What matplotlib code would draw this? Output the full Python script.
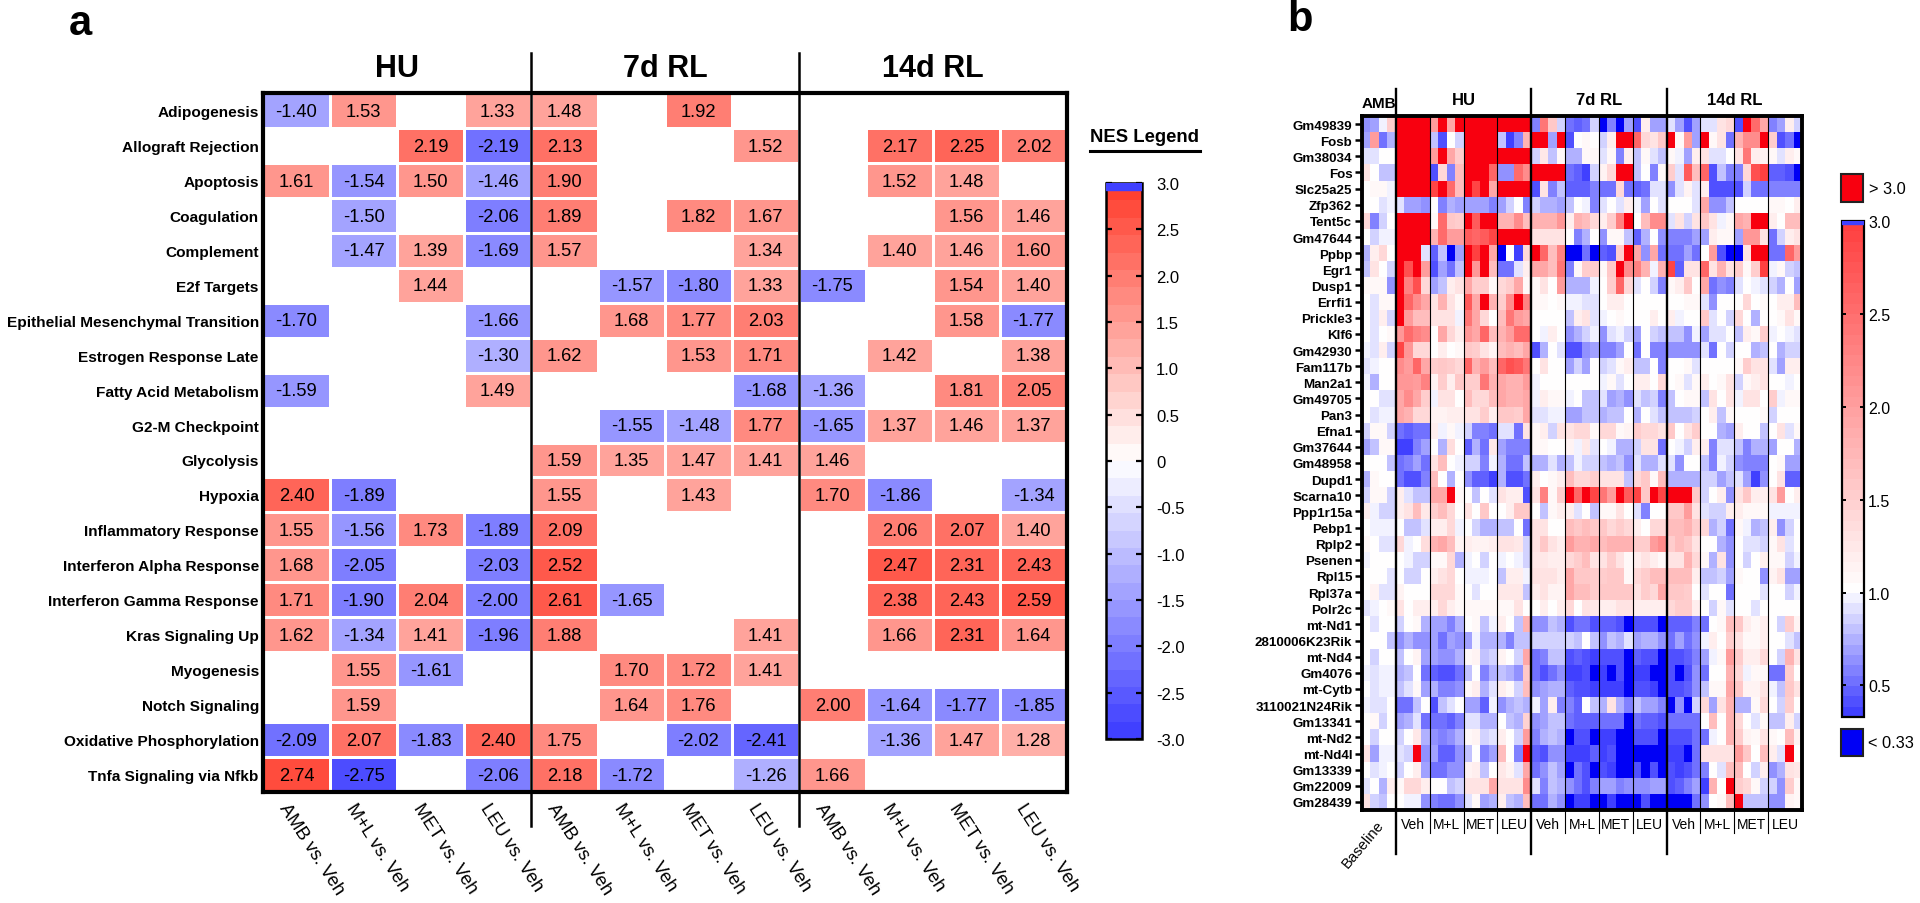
import numpy as np
import matplotlib
matplotlib.use("Agg")
import matplotlib.pyplot as plt
from matplotlib.colors import LinearSegmentedColormap, Normalize
from matplotlib.cm import ScalarMappable
from matplotlib.patches import Rectangle

plt.rcParams["font.family"] = ["Liberation Sans", "DejaVu Sans"]

W, H = 1920, 904
N = None

# panel a
pathways = ["Adipogenesis", "Allograft Rejection", "Apoptosis", "Coagulation", "Complement",
            "E2f Targets", "Epithelial Mesenchymal Transition", "Estrogen Response Late",
            "Fatty Acid Metabolism", "G2-M Checkpoint", "Glycolysis", "Hypoxia",
            "Inflammatory Response", "Interferon Alpha Response", "Interferon Gamma Response",
            "Kras Signaling Up", "Myogenesis", "Notch Signaling", "Oxidative Phosphorylation",
            "Tnfa Signaling via Nfkb"]
comparisons = ["AMB vs. Veh", "M+L vs. Veh", "MET vs. Veh", "LEU vs. Veh"] * 3
groups_a = ["HU", "7d RL", "14d RL"]
nes = [
    [-1.40, 1.53, N, 1.33, 1.48, N, 1.92, N, N, N, N, N],
    [N, N, 2.19, -2.19, 2.13, N, N, 1.52, N, 2.17, 2.25, 2.02],
    [1.61, -1.54, 1.50, -1.46, 1.90, N, N, N, N, 1.52, 1.48, N],
    [N, -1.50, N, -2.06, 1.89, N, 1.82, 1.67, N, N, 1.56, 1.46],
    [N, -1.47, 1.39, -1.69, 1.57, N, N, 1.34, N, 1.40, 1.46, 1.60],
    [N, N, 1.44, N, N, -1.57, -1.80, 1.33, -1.75, N, 1.54, 1.40],
    [-1.70, N, N, -1.66, N, 1.68, 1.77, 2.03, N, N, 1.58, -1.77],
    [N, N, N, -1.30, 1.62, N, 1.53, 1.71, N, 1.42, N, 1.38],
    [-1.59, N, N, 1.49, N, N, N, -1.68, -1.36, N, 1.81, 2.05],
    [N, N, N, N, N, -1.55, -1.48, 1.77, -1.65, 1.37, 1.46, 1.37],
    [N, N, N, N, 1.59, 1.35, 1.47, 1.41, 1.46, N, N, N],
    [2.40, -1.89, N, N, 1.55, N, 1.43, N, 1.70, -1.86, N, -1.34],
    [1.55, -1.56, 1.73, -1.89, 2.09, N, N, N, N, 2.06, 2.07, 1.40],
    [1.68, -2.05, N, -2.03, 2.52, N, N, N, N, 2.47, 2.31, 2.43],
    [1.71, -1.90, 2.04, -2.00, 2.61, -1.65, N, N, N, 2.38, 2.43, 2.59],
    [1.62, -1.34, 1.41, -1.96, 1.88, N, N, 1.41, N, 1.66, 2.31, 1.64],
    [N, 1.55, -1.61, N, N, 1.70, 1.72, 1.41, N, N, N, N],
    [N, 1.59, N, N, N, 1.64, 1.76, N, 2.00, -1.64, -1.77, -1.85],
    [-2.09, 2.07, -1.83, 2.40, 1.75, N, -2.02, -2.41, N, -1.36, 1.47, 1.28],
    [2.74, -2.75, N, -2.06, 2.18, -1.72, N, -1.26, 1.66, N, N, N],
]
nes_ticks = [3, 2.5, 2, 1.5, 1, 0.5, 0, -0.5, -1, -1.5, -2, -2.5, -3]
nes_labels = ["3.0", "2.5", "2.0", "1.5", "1.0", "0.5", "0", "-0.5", "-1.0", "-1.5", "-2.0", "-2.5", "-3.0"]

# panel b
genes = ["Gm49839", "Fosb", "Gm38034", "Fos", "Slc25a25", "Zfp362", "Tent5c", "Gm47644", "Ppbp", "Egr1",
         "Dusp1", "Errfi1", "Prickle3", "Klf6", "Gm42930", "Fam117b", "Man2a1", "Gm49705", "Pan3", "Efna1",
         "Gm37644", "Gm48958", "Dupd1", "Scarna10", "Ppp1r15a", "Pebp1", "Rplp2", "Psenen", "Rpl15", "Rpl37a",
         "Polr2c", "mt-Nd1", "2810006K23Rik", "mt-Nd4", "Gm4076", "mt-Cytb", "3110021N24Rik", "Gm13341",
         "mt-Nd2", "mt-Nd4l", "Gm13339", "Gm22009", "Gm28439"]
treatments = ["Veh", "M+L", "MET", "LEU"] * 3
groups_b = ["HU", "7d RL", "14d RL"]
R = 3.5
fold = [
    [.65,.7,.97,1.5, R,R,R,R, 2,R,1.9,R, R,R,R,R, R,R,R,R, .6,2.4,1.6,.85, .55,.45,.55,.85, .3,.6,.3,.7, .4,1.2,.7,.7, .9,.7,.42,.7, .9,.9,1.3,1.4, .42,R,2.5,1.9, .6,.7,1.2,.85],
    [.7,2,.5,.75, R,R,R,R, .8,.42,1,.85, R,R,R,R, .8,.38,.6,1.8, R,R,.7,R, .42,1,1.1,1.05, .85,1.2,R,R, 2.6,1.4,1.3,1.6, R,1.1,2,.7, R,1.1,1.3,.55, 1.8,2.2,2.2,R, 1.5,.42,.5,.3],
    [.9,.9,1.05,1.05, R,R,R,R, 2,R,1.9,1.5, R,R,R,R, R,R,R,R, .85,1.25,.8,1.1, .75,.75,1.1,1.1, .9,1.1,.6,1.2, .8,1.1,.9,.8, 1.1,.95,.7,1.2, 1.3,.9,.9,1, 1.3,2.4,1.2,1.15, 1.1,.9,1.2,1.1],
    [1.3,1.05,.8,.8, R,R,R,R, .4,1.4,.6,1.7, R,R,R,2.6, .65,.65,2.5,2.2, R,R,R,R, .55,.45,.37,.85, 1.15,1.4,R,R, .8,1,.6,1.1, 1.5,.9,2.7,1.7, 2.6,.42,.8,.6, .6,1.4,2.8,3, .45,.45,.42,.3],
    [1.05,1.1,1.1,.95, R,R,R,R, 2.9,R,2.5,1.7, R,2.9,R,1.9, R,R,R,R, .42,1.3,.6,.8, .45,.45,.45,.6, .5,.5,1.4,.55, .45,.55,.9,.9, .65,.9,1.15,.9, 1.2,.4,.4,.4, .4,.85,.55,.55, .6,.6,.6,.6],
    [1.05,1,.9,.95, .9,.7,.7,.65, 1,.6,.75,.7, .7,.7,.7,.6, .7,.85,1,.6, .85,.75,.75,.7, .8,1,.95,.6, .9,1,.9,1.2, .95,.7,1,.9, 1.05,1.05,1.05,.92, 1.9,.65,.65,.8, 1,1,1,1, 1.1,1.1,1,1.2],
    [1.4,.6,.85,1, R,R,R,R, 1.1,2.5,1.6,1.5, R,2.7,R,R, 1.8,1.8,2.2,1.7, 1.8,1.8,1.8,2.1, 1.2,1.8,1.7,1.4, 1.2,1.5,2.3,R, 1.05,1.7,2.2,2.2, .9,1.3,.85,1.3, 1.6,1.3,.95,1.1, 1.9,1.8,R,R, 1.2,1.05,1.7,1.7],
    [1.05,.85,.95,.97, R,R,R,R, 1.8,2.5,2,2, 2.7,2.6,2.7,2.9, R,R,R,R, 1.3,1.3,1.3,1.3, 1.02,.6,.75,1, .65,1.1,1.1,.8, .45,.75,1,.65, .6,.6,.6,.7, .7,1.2,1.1,1.1, .7,2.1,2.1,1.3, .55,.85,1.2,1.3],
    [.75,1.2,1.4,1.05, R,R,R,.9, .45,.8,.3,.7, R,3,R,1.9, .3,1.02,.38,1.4, R,2.6,1.7,2.3, .3,.3,.5,.3, .45,.42,1.5,R, 1.9,.65,1.9,.55, .5,.55,.7,.55, 1.05,2,.42,.3, .3,1.3,R,R, .55,.55,2.6,2],
    [.8,1.3,1,.85, R,2.8,R,2, .4,.7,.55,.8, R,2.1,R,1.7, .5,.5,.9,1.2, 1.9,1.9,1.7,2.4, .6,1.1,1.5,1.5, 1.1,1.6,R,2.2, 2.3,1.8,.95,1.8, 2.9,.45,1.3,1.3, 2.6,1.3,1.8,1.3, 1.5,1.1,1.5,3, .95,1.1,.85,.8],
    [1.1,1.1,1.1,.65, R,2.3,2.8,1.4, .7,.8,1.2,1.3, 1.9,1.5,1.5,1.1, 1.4,1.5,1.9,1.1, 1.1,1.3,1.05,2, .75,.75,.75,.95, 1.05,1.5,2.6,1.4, .9,1,.85,.6, 1.1,1.2,1.6,1, 1.9,.55,.65,.6, .9,1,.95,.9, .85,.75,1,.7],
    [1,.9,1.1,1.1, R,2.6,2.2,1.9, 1.3,1.8,1.3,1.1, 2.7,1.9,R,1.8, 1.5,2.2,R,2.3, 1.1,1.1,1,1.1, .97,.97,.9,.9, 1,1.2,1.2,1.05, 1,1.05,1.02,1, 1,1.05,1.1,1.1, .9,.65,1,1, 1,1.4,1.05,1.1, 1,1.2,1.2,1.7],
    [1.02,.92,1.2,.85, R,2,1.7,1.7, 1.3,1.3,1.3,.95, 2.4,1.9,1.4,1, 1.7,2.4,2,1.9, 1.05,1,1,1.05, .8,1.2,1.3,.9, .97,1.05,1.1,1.05, 1,1,1.2,1, 1.2,.97,1,1, 1.6,.9,1,.85, 1.4,1.05,.75,1, 1,1.1,1.3,1.1],
    [1.02,.92,1.05,1.1, 2.1,2.5,2.3,2.2, 1.05,1.9,1.4,1.2, 2.1,1.9,2.6,1.7, 1.8,2,2.5,2.5, 1.02,.95,1.2,1.05, .65,.75,.85,.95, .65,.9,.95,.85, .7,1,.85,.8, .8,.8,.65,.95, .7,.9,.9,1.05, .8,1.2,1.1,1.5, .97,1.05,.95,.9],
    [.95,.9,1.2,.85, 2.9,2.1,1.4,1.4, 1,1.2,1.05,1.1, 1.6,1.5,1.3,1.15, 1.7,1.8,1.7,1.9, .42,.75,1,.9, .4,.42,.65,.7, .6,.6,.7,1.02, .5,1,.6,.6, .65,.65,.65,.65, .9,.5,1,.85, 1.02,1.02,.75,.8, 1.02,.75,.88,.88],
    [.9,.95,1.05,1.05, 2.2,2,2.6,1.9, 1.5,1.6,1.5,1.4, 2.6,1.8,2,1.7, 2.6,2.8,2.7,2.4, 1.05,1.3,1.02,1.02, .7,.85,.7,1.02, .85,.9,1.08,1.2, .82,.82,1.02,.6, 1.02,1.05,1.1,.92, 1.05,1.05,1.05,1.05, 1.1,1.5,1.3,1.3, .92,.7,1.2,1.2],
    [.98,.75,1.05,1.05, 2.1,2.1,2,2.3, 1.15,1.5,1.2,1.6, 1.5,1.5,2.4,1.8, 1.9,1.8,1.8,2, .95,1.02,1.02,1.02, 1,1,1,1.02, .95,1.1,.9,1.02, 1.2,1.2,1.03,1.4, 1.03,1.1,.92,1.1, 1.2,1,1.1,1.3, .85,1.1,1.2,1.3, 1,1,.97,1],
    [1.02,1.05,.92,.92, 1.9,2.2,1.9,1.5, .95,1.3,1.3,1.05, 1.7,1.4,1.4,1.7, 1.9,1.8,1.8,1.9, .98,1.2,1.1,1.1, .97,1,.8,.8, .9,.7,.75,.62, .93,.82,.85,.6, .8,1,1.1,1.1, .8,1.3,1.05,1.3, .98,1.3,1.3,1.03, 1.5,.95,1.1,1.1],
    [1,.9,.98,.98, 1.9,1.8,1.4,1.4, 1.15,1.15,1.2,1.2, 1.3,1.3,1.5,1.2, 1.6,1.6,1.5,1.9, .92,.92,.97,.97, .7,.7,.8,.8, .75,.82,.82,1, .75,1,.92,.8, .8,.8,.8,.85, 1.05,1.2,.82,1.1, 1.02,1,1,1.1, .85,1,1,1.02],
    [.88,1.1,1.1,.85, .55,.45,.55,.55, 1.2,.95,1.1,.95, .88,.6,.6,.55, .92,.92,.55,1.3, 1.1,1.2,.85,1.3, 1.3,1.4,1.4,1.1, 1.4,1.4,1.1,1.15, 1.5,1.4,1.4,1.3, 1.6,1.05,1.3,1.5, 1.05,1.03,.75,.7, 1.2,1.05,1.02,.8, 1.05,1.3,.9,1.1],
    [.7,.8,1.1,1.1, .38,.38,.6,.7, 1.05,.72,1.35,1, .45,.75,.5,1.25, .7,.6,.6,.6, 1.1,1.1,1.05,1.05, 1.15,.95,1.25,.92, 1,.97,.75,.75, .88,1.3,1.3,.55, 1.03,.98,.85,1.2, 1.2,.6,.92,.92, .82,.6,.75,.75, .7,1.02,1.02,.75],
    [1.05,1.05,1.05,.82, .5,.58,.7,.55, 1.3,1.7,1.02,.98, .85,.85,.58,.95, .75,.55,.55,.82, .72,.72,.9,.72, .8,.95,.88,.88, .8,.72,.82,.62, .9,.72,.72,.92, .92,.65,1.02,1.02, .78,.6,.98,.85, .62,.6,.6,.6, 1.03,1.1,.7,.7],
    [.72,1.1,1,1.05, .55,.4,.4,.6, 1.7,1.05,.75,1, .62,.48,.48,.36, .75,.42,.42,.5, 1.2,1.02,1.1,1.2, 1.7,1.4,1.4,1.5, 1.3,1.3,1.3,.82, 1.4,1.6,1.1,1.7, .75,.75,.75,.75, .88,.88,.7,.82, .92,.7,.38,.62, 1.05,1.3,.48,.45],
    [.85,1.1,1.1,.88, 1.2,.92,.78,.78, 1.9,1.9,R,1.1, 1.02,.82,1.02,.92, 1.3,1.2,1.2,.42, 1.3,2.3,1.1,1.5, R,2.6,R,2.9, 2.4,2,R,2.7, 2.9,1.6,R,2.9, R,R,R,1.6, .85,1.02,1.2,.65, 1.3,1.6,1.2,1.2, 1.3,2,1.05,1.2],
    [1.2,.95,.85,.85, 1.2,1.3,1.7,1.25, 1.5,1.7,1.4,1.05, 1.3,1.02,1.6,1.05, 1,1.2,1.6,1.6, 1.03,.82,1.1,1.2, 1.2,.9,1,.8, 1.1,1.1,1.3,1, .9,.6,1.02,1.03, 1.6,1.6,2,1.3, .92,.85,.85,1.2, 1.2,1.1,1.1,1.1, .97,.97,.97,.97],
    [1.05,.97,.95,.97, 1.05,.82,.82,.92, 1.2,1.2,1.4,.97, 1.05,.85,.72,.72, .8,.78,1.02,.55, 1.3,1.3,1.05,1.05, 1.7,1.6,1.7,1.6, 1.6,1.4,1.5,1.4, 1.2,1.05,1.4,1.4, 1.7,1.7,1.8,1.5, 1.4,.72,.85,.5, 1.1,.95,.75,.78, 1.2,.62,.85,1.02],
    [1.1,1.02,.9,.9, 1.4,.95,1,1.35, 1.8,1.9,1.7,1.15, 1.2,1.15,1.15,1.2, 1.3,1.3,1.25,.88, 1.3,1.6,1.3,1.2, 2,1.8,1.8,1.9, 1.7,1.8,1.8,1.8, 1.5,1.5,2,2.2, 1.5,1.7,1.6,1.3, 1,1.02,.72,.65, 1.05,.92,.92,.85, 1.1,1.3,.92,1.05],
    [.95,1.02,1.02,1.02, 1.05,.95,.85,.85, 1.1,1.1,1.4,.75, .95,1,.88,1, .95,1.02,.95,.85, 1.25,1.25,1.2,1.2, 1.4,1.5,1.7,1.3, 1.3,1.5,1.3,1.1, 1.2,1.3,1.2,1.1, 1.3,1.3,1.8,1.4, 1.1,.75,1.3,.65, 1.05,.85,1.05,1.2, 1.1,1.1,.85,.95],
    [1.03,1.03,1.02,.9, 1.05,.85,.88,1.02, 1.2,1.3,1.4,1.02, .97,.95,.97,1, .8,1.2,1.2,.95, 1.3,1.3,1.3,1.2, 1.9,1.6,1.6,1.5, 1.5,1.6,1.6,1.1, 1.4,1.5,1.7,1.7, 1.7,1.7,1.7,1.2, .78,.78,.88,.68, 1.1,1.05,1.02,.65, 1.15,1.3,.68,.68],
    [1,1.15,.92,.92, 1.15,1.02,1,1.02, 1.4,1.4,1.4,1.1, 1.05,.92,1.05,1.05, 1.25,1.25,1.25,.78, 1.2,1.3,1.15,1.15, 1.9,1.7,1.7,1.5, 1.6,1.6,1.6,1.6, 1.3,1.5,1.4,1.9, 1.6,1.6,1.5,1.03, .92,1.05,1.03,.55, 1.05,1,1.02,.9, 1.03,1.05,.85,.95],
    [.9,.95,1.05,1.1, 1.3,1.05,1.2,1.2, 1.2,1.4,1.2,1.1, 1.1,1.1,1.1,1.1, 1.1,1.1,1.3,1.03, 1.05,1.2,1.05,1.2, 1.4,1.05,1.3,1.25, 1.2,1.2,1.3,1.3, 1.2,1.2,1.2,1.2, 1.4,1.5,1.5,1.2, 1.05,.85,1.1,.92, 1,1,.9,1, 1.05,1,1,1],
    [1,.9,1.05,1.03, .85,1.03,1.1,.72, .68,.68,.58,.72, 1.05,1.1,.8,.95, 1.2,1.03,.78,1.8, .62,.62,.78,.72, .42,.5,.5,.42, .45,.45,.42,.3, .42,.42,.42,.3, .45,.45,.45,.58, .52,1.05,1.1,1.7, 1.6,1.2,1.1,1.2, 1,.85,1.5,1.15],
    [1.02,1.05,1.05,.78, .62,.75,.65,.65, .68,.55,.68,.62, .68,.95,.75,.72, .72,.6,.82,.78, .85,.85,.85,.85, .85,.8,1,.8, .65,.78,.72,.92, .68,.72,.72,.62, .5,.7,.55,.65, .97,1.2,1.05,1.55, 1.3,1.1,1.1,1.2, 1.03,1.05,.9,.78],
    [1,.88,1.03,1.03, .82,1.05,1.15,.7, .68,.65,.65,.72, 1.1,1.15,.8,.88, 1.15,1.03,.85,1.9, .5,.6,.78,.78, .4,.45,.42,.38, .42,.4,.4,.3, .45,.42,.42,.3, .42,.42,.48,.6, .68,.95,1.1,2, 1.5,1.2,1.2,1.4, 1,.88,1.8,1.3],
    [.95,.9,.95,.95, .72,.78,1,.55, .45,.42,.42,.5, .78,1,.58,.72, .78,.75,.62,1.6, .5,.42,.5,.62, .37,.36,.4,.3, .38,.3,.4,.3, .38,.38,.3,.3, .42,.3,.42,.62, .55,1.02,1.02,1.8, 1.4,.95,1.1,1.1, .55,.55,1.5,1.05],
    [1,.92,.98,.98, .82,.93,1.1,.7, .72,.6,.6,.65, 1.1,1.2,.72,.92, 1.2,1.1,.88,1.7, .62,.68,.72,.72, .48,.42,.42,.38, .38,.38,.38,.3, .42,.42,.38,.3, .42,.42,.48,.62, .8,1.1,1.1,1.9, 1.6,1.15,1.15,1.3, .95,.82,1.6,1.3],
    [.95,.9,.9,1.03, .55,.55,.78,1, .42,.78,.92,1, .68,.68,.45,.95, .62,.75,.78,.72, .97,.68,1.2,.6, .6,.45,1,.82, .72,1.3,.75,.6, .82,.7,.7,.6, .3,.62,.3,.85, 1.4,.7,1.3,1.8, .75,.75,1.1,1.4, 1,.85,1.5,1.03],
    [1.03,1.1,.88,1.03, .7,.75,.92,.55, .55,.55,.48,.58, .92,.92,.75,.72, 1,.78,.72,1.45, .62,.68,.78,.82, .52,.48,.48,.45, .5,.52,.5,.3, .55,.45,.45,.42, .52,.52,.52,.55, 1,1.7,1.03,1.8, 1.4,1.05,.92,1.1, .78,.78,1.2,.85],
    [1,.85,1.05,1.05, .88,1.05,1.25,.72, .65,.6,.65,.72, 1.1,1.15,.85,.92, 1.2,1.05,.85,2, .6,.72,.78,.72, .3,.42,.42,.3, .38,.38,.3,.3, .42,.42,.42,.3, .42,.42,.42,.55, .5,.95,1.05,1.8, 1.5,1.15,1.1,1.3, 1.1,1.05,1.7,1.15],
    [1.3,.68,.95,.98, .9,.85,R,.62, .7,.45,.45,.62, .8,1.02,.6,.7, 1.7,1.03,.6,R, .45,.42,.62,.62, .38,.38,.38,.45, .38,.42,.3,.3, .3,.3,.3,.3, .38,.38,.3,.5, 1.3,1.3,1.3,1.3, 2,1.6,1.05,1.7, 1.2,.9,R,1.02],
    [1.03,.9,.97,1, .85,1.03,1.2,.7, .55,.55,.65,.65, 1.15,1.2,.82,1.05, 1.25,1.15,.9,1.9, .55,.62,.8,.68, .3,.55,.42,.3, .42,.38,.3,.3, .42,.3,.42,.3, .42,.38,.42,.55, .6,1.05,.9,1.7, 1.7,1.02,.88,1.2, .65,.72,1.3,1.25],
    [.92,1.03,.72,1.2, 1.1,1.4,1.4,1.2, 1.05,1.05,.8,.88, 1.3,1.3,1.3,1.9, 1.3,1.3,1.3,2.2, .9,.58,.8,.72, .65,.5,.42,.58, .7,.7,.6,.65, .62,.62,.68,.68, .42,.45,.58,.7, .38,1.8,1.03,R, 1.5,1.4,1.1,.85, .88,.62,1.5,1.1],
    [1.3,.88,.8,1.05, 1,.97,.95,.65, .6,.55,.52,.62, .92,1.1,.68,.75, 1.2,.8,.72,1.7, .5,.5,.72,.62, .3,.38,.38,.3, .3,.38,.3,.3, .3,.42,.3,.3, .3,.3,.3,.5, .62,1.05,1.1,1.7, R,.8,.8,.8, .65,.65,1.15,1.1],
]
fold_ticks = [3, 2.5, 2, 1.5, 1, 0.5]


def add_px_axes(fig, left, top, right, bottom):
    return fig.add_axes([left / W, 1 - bottom / H, (right - left) / W, (bottom - top) / H])


fig = plt.figure(figsize=(W / 100, H / 100), dpi=100)

fig.text(80 / W, 1 - 24 / H, "a", fontsize=30, fontweight="bold", ha="center", va="center")
fig.text(1300 / W, 1 - 20 / H, "b", fontsize=30, fontweight="bold", ha="center", va="center")

# ---- panel a heatmap
nes_cmap = LinearSegmentedColormap.from_list("nes", ["#4040ff", "#ffffff", "#ff4030"], N=32)
nes_norm = Normalize(-3, 3)
ax = add_px_axes(fig, 263, 94, 1067, 793)
nes_arr = np.array(nes, dtype=float)
ax.pcolormesh(nes_arr, cmap=nes_cmap, norm=nes_norm, edgecolors="white", linewidth=2)
ax.set_xlim(0, 12)
ax.set_ylim(20, 0)
for r in range(nes_arr.shape[0]):
    for c in range(nes_arr.shape[1]):
        if not np.isnan(nes_arr[r, c]):
            ax.text(c + 0.5, r + 0.52, "%.2f" % nes_arr[r, c], ha="center", va="center", fontsize=13.2)
ax.set_yticks(np.arange(20) + 0.5)
ax.set_yticklabels(pathways, fontweight="bold", fontsize=11.1)
ax.tick_params(axis="y", length=0, pad=3)
ax.set_xticks([])
for s in ax.spines.values():
    s.set_linewidth(3)
for c in [4, 8]:
    ax.plot([c, c], [-1.15, 20.97], color="black", lw=1.8, clip_on=False, zorder=5)
for i, g in enumerate(groups_a):
    ax.text(2 + 4 * i, -0.72, g, fontsize=22, fontweight="bold", ha="center", va="center")
for c, lab in enumerate(comparisons):
    ax.text(c + 0.3, 20.35, lab, rotation=-57, rotation_mode="anchor", ha="left", va="center", fontsize=13.2)

# panel a legend
fig.text(1145 / W, 1 - 137 / H, "NES Legend", fontsize=13.3, fontweight="bold", ha="center", va="center")
fig.add_artist(plt.Line2D([1090 / W, 1200 / W], [1 - 152 / H, 1 - 152 / H], color="black", lw=2.2))
cax = add_px_axes(fig, 1106, 184, 1142, 740)
cb = fig.colorbar(ScalarMappable(norm=nes_norm, cmap=nes_cmap), cax=cax)
cax.axhspan(2.92, 3, color="#4040ff", zorder=4)
cb.set_ticks(nes_ticks)
cb.set_ticklabels(nes_labels)
cb.ax.tick_params(length=4, width=1.6, direction="in", left=True, right=True, labelsize=12, pad=10)
cb.outline.set_linewidth(1.8)

# ---- panel b heatmap
fold_cmap = LinearSegmentedColormap.from_list(
    "fold", [(0, "#4040ff"), (0.251, "#ffffff"), (1, "#ff4040")], N=48)
fold_cmap.set_over("#f8000f")
fold_cmap.set_under("#0000f5")
fold_norm = Normalize(0.33, 3)
bx = add_px_axes(fig, 1362, 117, 1802, 811)
fold_arr = np.array(fold, dtype=float)
bx.pcolormesh(fold_arr, cmap=fold_cmap, norm=fold_norm)
bx.set_xlim(0, 52)
bx.set_ylim(43, 0)
bx.set_yticks(np.arange(43) + 0.5)
bx.set_yticklabels(genes, fontweight="bold", fontsize=9.6)
bx.tick_params(axis="y", length=5, width=1.8, pad=2)
bx.set_xticks([])
for s in bx.spines.values():
    s.set_linewidth(2.8)
for c in [8, 12, 16, 24, 28, 32, 40, 44, 48]:
    bx.plot([c, c], [0, 44.4], color="black", lw=0.8, clip_on=False, zorder=5)
for c in [4, 20, 36]:
    bx.plot([c, c], [-1.7, 45.7], color="black", lw=1.7, clip_on=False, zorder=5)
bx.text(2, -0.8, "AMB", fontsize=11, fontweight="bold", ha="center", va="center")
for i, g in enumerate(groups_b):
    bx.text(12 + 16 * i, -1.05, g, fontsize=12, fontweight="bold", ha="center", va="center")
for i, t in enumerate(treatments):
    bx.text(6 + 4 * i, 43.85, t, fontsize=10, ha="center", va="center")
bx.text(2.3, 43.7, "Baseline", fontsize=10.6, rotation=50, rotation_mode="anchor", ha="right", va="center")

# panel b legend
lax = fig.add_axes([0, 0, 1, 1])
lax.set_xlim(0, W)
lax.set_ylim(H, 0)
lax.axis("off")
lax.patch.set_alpha(0)
lax.add_patch(Rectangle((1841, 175), 22, 28, facecolor="#f8000f", edgecolor="#222222", lw=1.5))
lax.add_patch(Rectangle((1841, 730), 22, 27, facecolor="#0000f5", edgecolor="#222222", lw=1.5))
lax.text(1869, 189, "> 3.0", fontsize=11.8, va="center")
lax.text(1868, 744, "< 0.33", fontsize=11.8, va="center")
dax = add_px_axes(fig, 1842, 222, 1864, 718)
cb2 = fig.colorbar(ScalarMappable(norm=fold_norm, cmap=fold_cmap), cax=dax)
dax.axhspan(2.985, 3, color="#4040ff", zorder=4)
cb2.set_ticks(fold_ticks)
cb2.set_ticklabels(["3.0", "2.5", "2.0", "1.5", "1.0", "0.5"])
cb2.ax.tick_params(length=3, width=1.4, direction="in", left=True, right=True, labelsize=11.5, pad=3)
cb2.outline.set_linewidth(1.6)

fig.savefig("out.png", dpi=100)
